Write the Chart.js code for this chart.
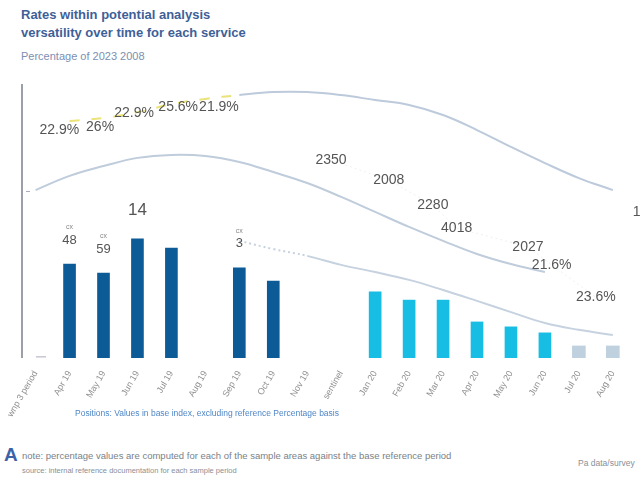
<!DOCTYPE html>
<html>
<head>
<meta charset="utf-8">
<script src="https://cdn.jsdelivr.net/npm/chart.js@4.4.1/dist/chart.umd.min.js"></script>
<style>
  body { margin: 0; width: 640px; height: 480px; background: #fff; font-family: "Liberation Sans", Arial, sans-serif; position: relative; overflow: hidden; }
  .t1 { position: absolute; left: 21px; top: 6px; font-size: 13px; font-weight: bold; color: #3f5f98; line-height: 18px; }
  .t3 { position: absolute; left: 21px; top: 50px; font-size: 11px; color: #7b8fb2; }
  #wrap { position: absolute; left: 0; top: 78px; width: 640px; height: 344px; }
  .cap { position: absolute; left: 75px; top: 408px; font-size: 8.5px; color: #4f86c6; }
  .foot { position: absolute; left: 22px; top: 450px; font-size: 9.5px; color: #7a7f88; }
  .bigA { position: absolute; left: 4px; top: 444px; font-size: 19px; color: #3c63a8; font-weight: bold; }
  .foot2 { position: absolute; left: 22px; top: 466px; font-size: 7.5px; color: #8a8f98; }
  .src { position: absolute; left: 578px; top: 458px; font-size: 8.5px; color: #8a8f98; }
</style>
</head>
<body>
<div class="t1">Rates within potential analysis<br>versatility over time for each service</div>
<div class="t3">Percentage of 2023 2008</div>
<div id="wrap"><canvas id="myChart" width="640" height="344"></canvas></div>
<div class="cap">Positions: Values in base index, excluding reference Percentage basis</div>
<div class="bigA">A</div>
<div class="foot">note: percentage values are computed for each of the sample areas against the base reference period</div>
<div class="foot2">source: internal reference documentation for each sample period</div>
<div class="src">Pa data/survey</div>

<script>
// categorias (posicao = indice)
const categories = ['wnp 3 period', 'Apr 19', 'May 19', 'Jun 19', 'Jul 19', 'Aug 19', 'Sep 19', 'Oct 19', 'Nov 19',
  'sentinel', 'Jan 20', 'Feb 20', 'Mar 20', 'Apr 20', 'May 20', 'Jun 20', 'Jul 20', 'Aug 20'];

// barras
const darkVals = [null, 34.4, 31.1, 43.6, 40.3, null, 33.0, 28.2, null, null, null, null, null, null, null, null, null, null];
const cyanVals = [null, null, null, null, null, null, null, null, null, null, 24.2, 21.2, 21.2, 13.2, 11.4, 9.2, null, null];
const grayVals = [null, null, null, null, null, null, null, null, null, null, null, null, null, null, null, null, 4.4, 4.4];
const barNotes = [null, '48', '59', '14', null, null, '3', null, null, null, null, null, null, null, null, null, null, null];

// linhas
const upperVals = [null, 86.8, 87.9, 90.0, 93.0, 94.9, 96.3, 97.4, 97.4, 96.3, 94.5, 92.7, 89.0, 83.5, 77.3, 71.4, 65.9, 61.5];
const midVals = [61.5, 66.7, 70.3, 73.3, 74.4, 74.0, 71.8, 68.1, 64.1, 59.0, 53.5, 48.0, 42.9, 38.1, 34.4, 31.5, null, null];
const lowVals = [null, null, null, null, null, null, 42.9, 39.9, 37.4, 34.1, 31.5, 28.6, 24.9, 20.9, 16.8, 12.8, 10.3, 8.4];

// rotulos soltos
const notePos = [0.7, 1.9, 2.9, 4.2, 5.4, 8.7, 10.4, 11.7, 12.4, 14.5, 15.2, 16.5, 17.7];
const noteVals = [83.5, 84.6, 89.7, 91.9, 91.9, 72.5, 65.2, 56.0, 47.6, 40.7, 34.1, 22.3, 53.5];
const noteTexts = ['22.9%', '26%', '22.9%', '25.6%', '21.9%', '2350', '2008', '2280', '4018', '2027', '21.6%', '23.6%', '1'];

const pts = arr => arr.map((v, i) => v === null ? null : { x: i, y: v }).filter(p => p);

const labelPlugin = {
  id: 'labels',
  afterDatasetsDraw(chart) {
    const c = chart.ctx, xs = chart.scales.x, ys = chart.scales.y;
    c.save();
    c.fillStyle = '#555';
    c.textAlign = 'center';
    c.textBaseline = 'middle';
    c.font = '14px "Liberation Sans Narrow", "Liberation Sans", sans-serif';
    notePos.forEach((p, i) => {
      c.fillText(noteTexts[i], xs.getPixelForValue(p), ys.getPixelForValue(noteVals[i]));
    });
    barNotes.forEach((n, i) => {
      if (!n) return;
      const top = ys.getPixelForValue(darkVals[i]);
      const big = n === '14';
      c.fillStyle = '#555';
      c.font = (big ? '17px' : '13px') + ' "Liberation Sans", sans-serif';
      c.fillText(n, xs.getPixelForValue(i), top - (big ? 29 : 24));
      if (!big) {
        c.font = '7px "Liberation Sans", sans-serif';
        c.fillStyle = '#888';
        c.fillText('cx', xs.getPixelForValue(i), top - 37);
      }
    });
    // marcas pequenas do eixo
    c.strokeStyle = '#aab';
    c.lineWidth = 1;
    c.beginPath();
    c.moveTo(26, ys.getPixelForValue(61)); c.lineTo(30, ys.getPixelForValue(61));
    c.moveTo(36, ys.getPixelForValue(0.4)); c.lineTo(46, ys.getPixelForValue(0.4));
    c.stroke();
    c.restore();
  }
};

const ctx = document.getElementById('myChart').getContext('2d');
const myChart = new Chart(ctx, {
  data: {
    datasets: [
      { type: 'bar', data: pts(darkVals), backgroundColor: '#0d5b96', barThickness: 12, grouped: false },
      { type: 'bar', data: pts(cyanVals), backgroundColor: '#17bde2', barThickness: 12, grouped: false },
      { type: 'bar', data: pts(grayVals), backgroundColor: '#bfd0df', barThickness: 13, grouped: false },
      {
        type: 'line', data: pts(upperVals), borderColor: '#bccadb', borderWidth: 2, pointRadius: 0, tension: 0.4,
        segment: {
          borderColor: s => s.p0.parsed.x < 6 ? '#ebe37a' : '#bccadb',
          borderDash: s => s.p0.parsed.x < 6 ? [10, 12] : []
        }
      },
      { type: 'line', data: pts(midVals), borderColor: '#bfccdb', borderWidth: 2, pointRadius: 0, tension: 0.4 },
      {
        type: 'line', data: pts(lowVals), borderColor: '#c6d2df', borderWidth: 2, pointRadius: 0, tension: 0.4,
        segment: { borderDash: s => s.p0.parsed.x < 8 ? [2, 3] : [] }
      },
      { type: 'line', data: notePos.map((p, i) => ({ x: p, y: noteVals[i] })).slice(5, 12), borderColor: '#eceff3', borderWidth: 1, borderDash: [2, 3], pointRadius: 0 }
    ]
  },
  options: {
    responsive: false,
    animation: false,
    layout: { padding: { left: 22, right: 0, top: 7, bottom: 0 } },
    plugins: { legend: { display: false }, tooltip: { enabled: false } },
    scales: {
      x: {
        type: 'linear', min: -0.4, max: 17.8, offset: false,
        grid: { display: false }, border: { display: false },
        afterBuildTicks: s => { s.ticks = categories.map((c, i) => ({ value: i })); },
        afterFit: s => { s.paddingLeft = 0; s.paddingRight = 0; },
        ticks: {
          callback: v => categories[v],
          minRotation: 60, maxRotation: 60, autoSkip: false,
          color: '#8f8f8f', font: { size: 9 }
        }
      },
      y: {
        min: 0, max: 100,
        ticks: { display: false },
        grid: { display: false, drawTicks: false },
        border: { color: '#9aa0a8', width: 2, dash: [1, 1.5] }
      }
    }
  },
  plugins: [labelPlugin]
});
</script>
</body>
</html>
